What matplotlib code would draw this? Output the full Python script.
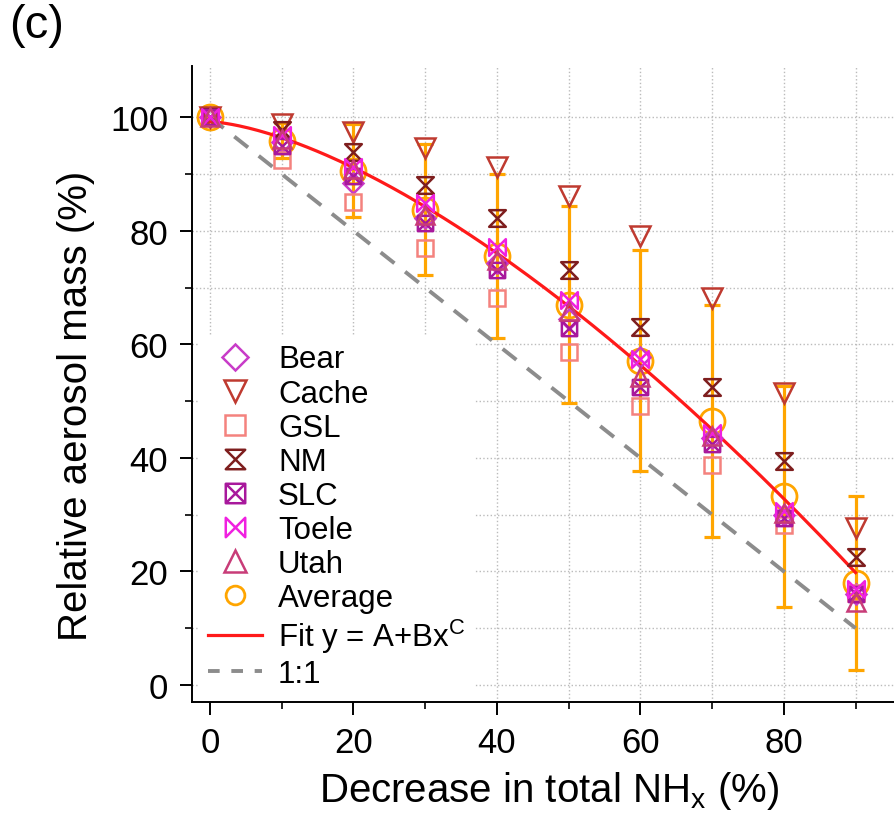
import matplotlib.pyplot as plt
import numpy as np
from matplotlib.lines import Line2D
from matplotlib.path import Path

plt.rcParams['font.family'] = ['Liberation Sans', 'DejaVu Sans']
plt.rcParams['mathtext.fontset'] = 'custom'
plt.rcParams['mathtext.rm'] = 'Liberation Sans'

# data
decrease = [0, 10, 20, 30, 40, 50, 60, 70, 80, 90]
bear = [100, 95.6, 88.5, 82.2, 74.3, 64.5, 57.8, 43.5, 30.0, 16.0]
cache = [100, 98.8, 97.4, 94.6, 91.2, 86.2, 79.0, 68.2, 51.5, 27.6]
gsl = [100, 92.5, 85.0, 76.9, 68.1, 58.6, 49.1, 38.8, 28.2, 16.2]
nm = [100, 97.8, 93.8, 88.0, 82.2, 73.1, 63.1, 52.4, 39.4, 22.5]
slc = [100, 95.0, 89.7, 81.4, 73.1, 62.9, 52.4, 42.4, 29.4, 16.0]
toele = [100, 96.8, 91.2, 84.9, 77.2, 67.8, 57.5, 44.4, 30.6, 16.9]
utah = [100, 96.2, 90.8, 82.7, 74.9, 65.8, 54.2, 43.8, 30.3, 14.6]
average = [100, 95.9, 90.6, 83.7, 75.6, 67.0, 57.1, 46.5, 33.2, 18.0]
average_err = [0, 3.0, 8.2, 11.5, 14.4, 17.3, 19.5, 20.4, 19.5, 15.3]

# fit y = A + B x^C as drawn in the figure
fit_a, fit_b, fit_c = 99.2, -0.085, 1.52
one_to_one_x = [0, 90]
one_to_one_y = [100, 10]

# custom marker shapes (hourglass, boxed x, bowtie)
M, L, C = Path.MOVETO, Path.LINETO, Path.CLOSEPOLY
hourglass = Path([(-1, 1), (1, 1), (-1, -1), (1, -1), (-1, 1)], [M, L, L, L, C])
boxed_x = Path([(-1, -1), (1, -1), (1, 1), (-1, 1), (-1, -1), (-1, -1), (1, 1), (-1, 1), (1, -1)],
               [M, L, L, L, C, M, L, M, L])
bowtie = Path([(-1, 1), (-1, -1), (1, 1), (1, -1), (-1, 1)], [M, L, L, L, C])

# name, values, marker, colour, size in plot, size in legend
series = [
    ('Bear', bear, 'D', '#C83CC8', 10.5, 13.5),
    ('Cache', cache, 'v', '#BF3A30', 14, 15.5),
    ('GSL', gsl, 's', '#F4827E', 11, 14),
    ('NM', nm, hourglass, '#7E1E1E', 12, 14),
    ('SLC', slc, boxed_x, '#A8189C', 11, 14),
    ('Toele', toele, bowtie, '#F020E0', 12, 14),
    ('Utah', utah, '^', '#C83C78', 13, 15.5),
]
orange = '#FFA500'

fig = plt.figure(figsize=(8.95, 8.29), dpi=100)
ax = fig.add_axes([0.2145, 0.152, 0.7855, 0.767])

# error bars and average circles sit underneath
ax.errorbar(decrease, average, yerr=average_err, fmt='none', ecolor=orange,
            elinewidth=2.3, capsize=5.5, capthick=2.3, zorder=2)
ax.plot(decrease, average, 'o', ms=18, mfc='none', mec=orange, mew=2.0, zorder=3)

x_fit = np.linspace(0, 90, 200)
ax.plot(x_fit, fit_a + fit_b * x_fit ** fit_c, color='#FF1A1A', lw=2.3, zorder=4)
ax.plot(one_to_one_x, one_to_one_y, color='#8C8C8C', lw=2.8, dashes=(4.5, 3.5), zorder=4)

for name, values, marker, color, size, _ in series:
    ax.plot(decrease, values, linestyle='none', marker=marker, ms=size, mfc='none',
            mec=color, mew=1.8, zorder=5)

# axes styling
ax.set_xlim(-2.5, 95.5)
ax.set_ylim(-3, 109)
ax.set_xticks(range(0, 81, 20))
ax.set_xticks(range(10, 91, 20), minor=True)
ax.set_yticks(range(0, 101, 20))
ax.set_yticks(range(10, 101, 20), minor=True)
ax.grid(True, which='both', linestyle=':', color='#BBBBBB', lw=1.0)
ax.set_axisbelow(True)
for side in ['top', 'right']:
    ax.spines[side].set_visible(False)
for side in ['left', 'bottom']:
    ax.spines[side].set_linewidth(1.4)
    ax.spines[side].set_zorder(8)
ax.tick_params(which='major', direction='out', length=9, width=1.4, labelsize=25, pad=8)
ax.tick_params(which='minor', direction='out', length=5, width=1.2)

ax.set_xlabel(r'Decrease in total NH$_{\mathregular{x}}$ (%)', fontsize=29)
ax.set_ylabel('Relative aerosol mass (%)', fontsize=29)
ax.xaxis.set_label_coords(0.508, -0.106)
ax.yaxis.set_label_coords(-0.138, 0.467)

# legend with its own marker sizes
handles = []
for name, values, marker, color, _, legend_size in series:
    handles.append(Line2D([], [], linestyle='none', marker=marker, ms=legend_size, mfc='none',
                          mec=color, mew=1.8, label=name))
handles.append(Line2D([], [], linestyle='none', marker='o', ms=13.5, mfc='none', mec=orange,
                      mew=2.0, label='Average'))
handles.append(Line2D([], [], color='#FF1A1A', lw=2.3, label=r'Fit y = A+Bx$^{\mathregular{C}}$'))
handles.append(Line2D([], [], color='#8C8C8C', lw=2.8, dashes=(3, 3), label='1:1'))
leg = ax.legend(handles=handles, loc='upper left', bbox_to_anchor=(0.009, 0.577), fontsize=22.5,
                frameon=True, facecolor='white', edgecolor='none', framealpha=1, fancybox=False,
                borderpad=0.3, borderaxespad=0, handlelength=1.75, handletextpad=0.5,
                labelspacing=0.13)
leg.set_zorder(6)

fig.text(0.01, 0.995, '(c)', fontsize=34, va='top', ha='left')

fig.savefig('out.png', dpi=100)
